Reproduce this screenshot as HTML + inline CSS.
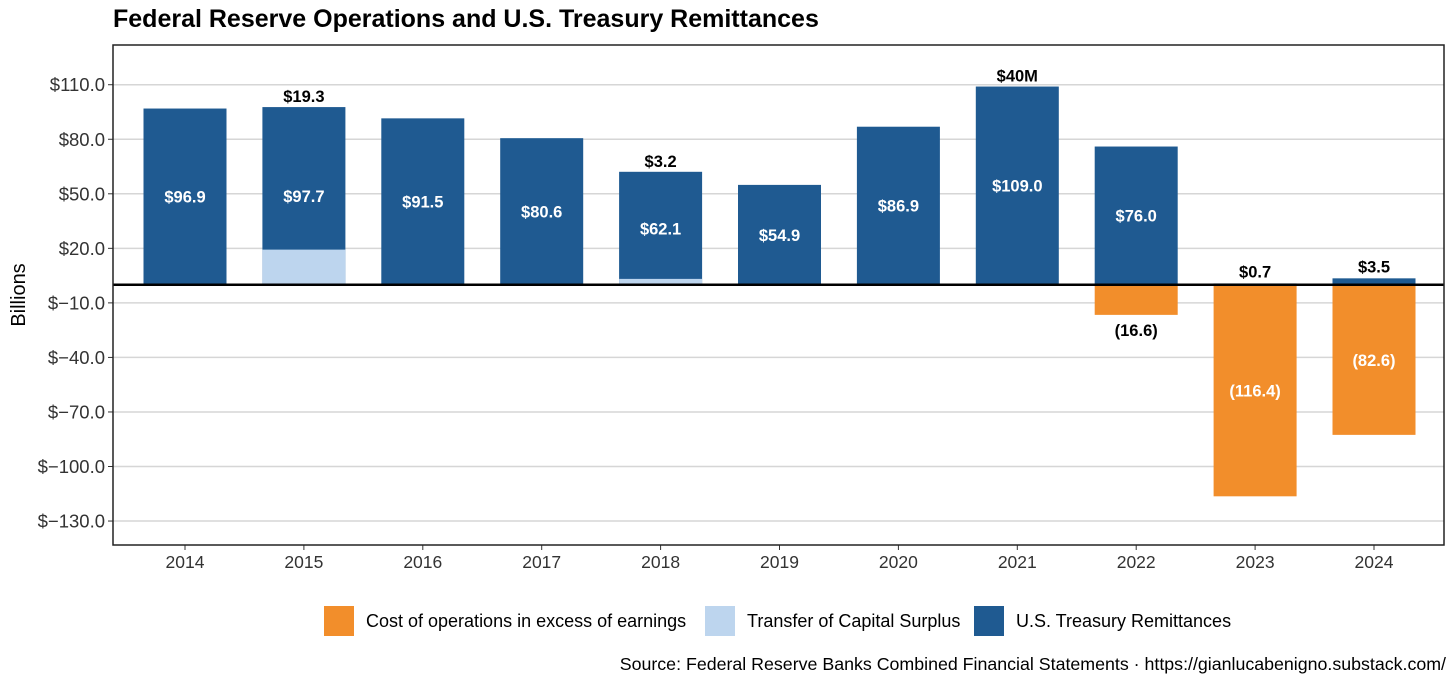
<!DOCTYPE html>
<html><head><meta charset="utf-8"><style>
body{margin:0;background:#fff;font-family:"Liberation Sans",Arial,sans-serif;}
svg text{font-family:"Liberation Sans",Arial,sans-serif;}
</style></head><body>
<svg id="c" width="1456" height="685" xmlns="http://www.w3.org/2000/svg">
<rect x="0" y="0" width="1456" height="685" fill="#fff"/>
<text x="113" y="27" font-size="25" font-weight="bold" fill="#000">Federal Reserve Operations and U.S. Treasury Remittances</text>
<g id="grid"></g><g id="bars"></g><g id="labels"></g><g id="axes"></g>
<text transform="translate(25,295) rotate(-90)" text-anchor="middle" font-size="20" fill="#000">Billions</text>
<g>
<rect x="324" y="606" width="30" height="30" fill="#f28e2b"/>
<text x="366" y="627" font-size="18" fill="#000">Cost of operations in excess of earnings</text>
<rect x="705" y="606" width="30" height="30" fill="#bdd5ee"/>
<text x="747" y="627" font-size="18" fill="#000">Transfer of Capital Surplus</text>
<rect x="974" y="606" width="30" height="30" fill="#1f5a91"/>
<text x="1016" y="627" font-size="18" fill="#000">U.S. Treasury Remittances</text>
</g>
<text x="1446" y="670" text-anchor="end" font-size="17.8" fill="#000">Source: Federal Reserve Banks Combined Financial Statements · https://gianlucabenigno.substack.com/</text>
</svg>
<script>
const years=["2014","2015","2016","2017","2018","2019","2020","2021","2022","2023","2024"];
const remittances=[96.9,97.7,91.5,80.6,62.1,54.9,86.9,109.0,76.0,0.7,3.5];
const transfers=[0,19.3,0,0,3.2,0,0,0.04,0,0,0];
const transferLabels=["","$19.3","","","$3.2","","","$40M","","",""];
const costs=[0,0,0,0,0,0,0,0,-16.6,-116.4,-82.6];
const yTicks=[110,80,50,20,-10,-40,-70,-100,-130];

const NS="http://www.w3.org/2000/svg";
const L=113,R=1444,T=45,B=545;
const y0=284.7,k=1.818;
function y(v){return y0-v*k;}
function x(i){return 185+i*118.9;}
const bw=83;
function mk(tag,attrs,parent,txt){const e=document.createElementNS(NS,tag);for(const a in attrs)e.setAttribute(a,attrs[a]);if(txt!==undefined)e.textContent=txt;document.getElementById(parent).appendChild(e);return e;}
function fmt(v){return "$"+(v<0?"\u2212":"")+Math.abs(v).toFixed(1);}

yTicks.forEach(t=>{
  const g=mk("line",{x1:L,x2:R,y1:y(t),y2:y(t),stroke:"#d6d6d6","stroke-width":1.5},"grid");
  
  
  const tk=mk("line",{x1:L-5,x2:L,y1:y(t),y2:y(t),stroke:"#333","stroke-width":1},"axes");
  
  
  const tl=mk("text",{x:L-8,y:y(t)+6.5,"text-anchor":"end","font-size":18.5,fill:"#333"},"axes",fmt(t));
  
  
});
years.forEach((yr,i)=>{
  const cx=x(i);
  const tk=mk("line",{x1:cx,x2:cx,y1:B,y2:B+5,stroke:"#333"},"axes");
  
  
  const tl=mk("text",{x:cx,y:B+23,"text-anchor":"middle","font-size":17.5,fill:"#333"},"axes",yr);
  
  
  const r=remittances[i];
  if(r>0){
    const b=mk("rect",{x:cx-bw/2,y:y(r),width:bw,height:y(0)-y(r),fill:"#1f5a91"},"bars");
    
    
  }
  const tr=transfers[i];
  if(tr>0){
    const b=mk("rect",{x:cx-bw/2,y:y(tr),width:bw,height:Math.max(y(0)-y(tr),1),fill:"#bdd5ee"},"bars");
    
    
  }
  const c=costs[i];
  if(c<0){
    const b=mk("rect",{x:cx-bw/2,y:y(0),width:bw,height:y(c)-y(0),fill:"#f28e2b"},"bars");
    
    
    const inside=Math.abs(c)>30;
    const t=mk("text",{x:cx,y:inside?y(c/2)+6:y(c)+21,"text-anchor":"middle","font-size":16.5,"font-weight":"bold",fill:inside?"#fff":"#000"},"labels","("+Math.abs(c).toFixed(1)+")");
    
    
  }
  if(r>10){
    const t=mk("text",{x:cx,y:y(r/2)+6,"text-anchor":"middle","font-size":16.5,"font-weight":"bold",fill:"#fff"},"labels","$"+r.toFixed(1));
    
    
  } else if(r>0){
    const t=mk("text",{x:cx,y:y(r)-6,"text-anchor":"middle","font-size":16.5,"font-weight":"bold",fill:"#000"},"labels","$"+r.toFixed(1));
    
    
  }
  if(transferLabels[i]){
    const t=mk("text",{x:cx,y:y(r)-5,"text-anchor":"middle","font-size":16.5,"font-weight":"bold",fill:"#000"},"labels",transferLabels[i]);
    
    
  }
});
const z=mk("line",{x1:L,x2:R,y1:y(0),y2:y(0),stroke:"#000","stroke-width":2.5},"axes");


const fr=mk("rect",{x:L,y:T,width:R-L,height:B-T,fill:"none",stroke:"#222","stroke-width":1.5},"axes");


</script>
</body></html>
